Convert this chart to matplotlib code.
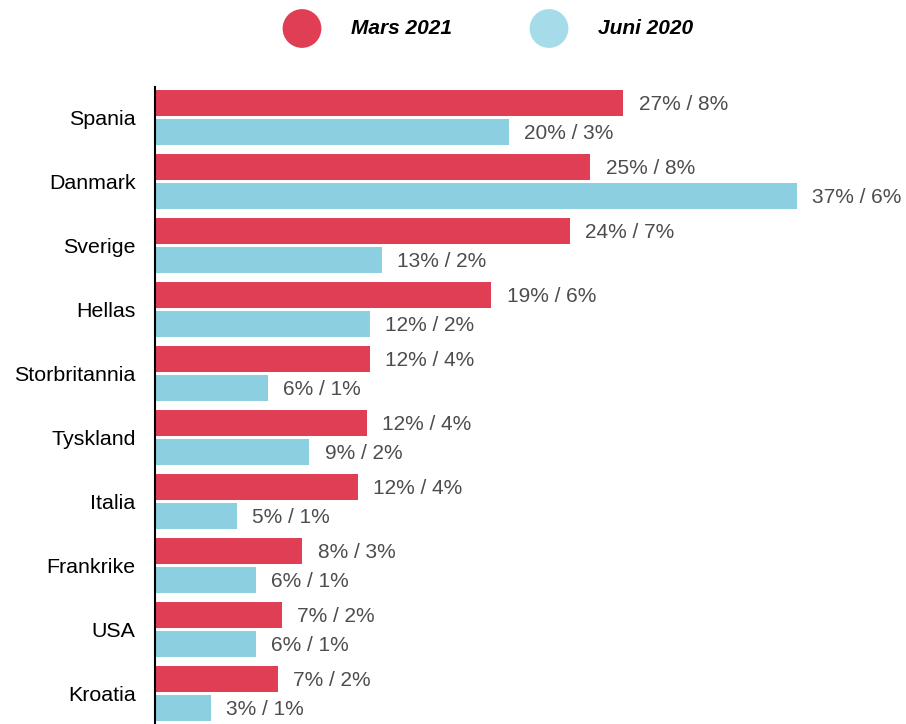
import matplotlib.pyplot as plt
import numpy as np

# data
countries = ['Spania', 'Danmark', 'Sverige', 'Hellas', 'Storbritannia',
             'Tyskland', 'Italia', 'Frankrike', 'USA', 'Kroatia']
mars_2021 = [27.0, 25.1, 23.9, 19.4, 12.4, 12.2, 11.7, 8.5, 7.3, 7.1]
juni_2020 = [20.4, 37.0, 13.1, 12.4, 6.5, 8.9, 4.7, 5.8, 5.8, 3.2]
mars_labels = ['27% / 8%', '25% / 8%', '24% / 7%', '19% / 6%', '12% / 4%',
               '12% / 4%', '12% / 4%', '8% / 3%', '7% / 2%', '7% / 2%']
juni_labels = ['20% / 3%', '37% / 6%', '13% / 2%', '12% / 2%', '6% / 1%',
               '9% / 2%', '5% / 1%', '6% / 1%', '6% / 1%', '3% / 1%']

red = '#E03E55'
blue = '#8BCFE0'
blue_legend = '#A6DCEA'

plt.rcParams['font.family'] = ['Liberation Sans', 'DejaVu Sans']

fig = plt.figure(figsize=(9.06, 7.24), dpi=100)
ax = fig.add_axes([155 / 906, 0, 1 - 155 / 906, 1 - 87 / 724])

y = np.arange(len(countries))
h = 0.406
gap = 0.047
ax.barh(y - (h + gap) / 2, mars_2021, height=h, color=red)
ax.barh(y + (h + gap) / 2, juni_2020, height=h, color=blue)

# value labels
for i in range(len(countries)):
    ax.annotate(mars_labels[i], (mars_2021[i], y[i] - (h + gap) / 2),
                xytext=(11, -1.2), textcoords='offset points',
                va='center', ha='left', fontsize=15, color='#4D4D4D')
    ax.annotate(juni_labels[i], (juni_2020[i], y[i] + (h + gap) / 2),
                xytext=(11, -1.2), textcoords='offset points',
                va='center', ha='left', fontsize=15, color='#4D4D4D')

ax.set_xlim(0, 43.3)
ax.set_ylim(len(countries) - 0.523, -0.477)
ax.set_yticks(y)
ax.set_yticklabels(countries, fontsize=15.4)
ax.tick_params(axis='y', length=0, pad=14)
ax.set_xticks([])
for s in ['top', 'right', 'bottom']:
    ax.spines[s].set_visible(False)
ax.spines['left'].set_linewidth(1.5)
ax.spines['left'].set_color('black')

# legend drawn in its own pixel-based axes
lg = fig.add_axes([0, 1 - 60 / 724, 1, 60 / 724])
lg.set_xlim(0, 906)
lg.set_ylim(60, 0)
lg.axis('off')
lg.scatter([302], [28.5], s=780, color=red, edgecolors='none')
lg.scatter([549], [28.5], s=780, color=blue_legend, edgecolors='none')
lg.text(351, 28.5, 'Mars 2021', fontsize=15, fontweight='bold', fontstyle='italic',
        va='center', ha='left')
lg.text(598, 28.5, 'Juni 2020', fontsize=15, fontweight='bold', fontstyle='italic',
        va='center', ha='left')

fig.savefig('out.png', dpi=100)
